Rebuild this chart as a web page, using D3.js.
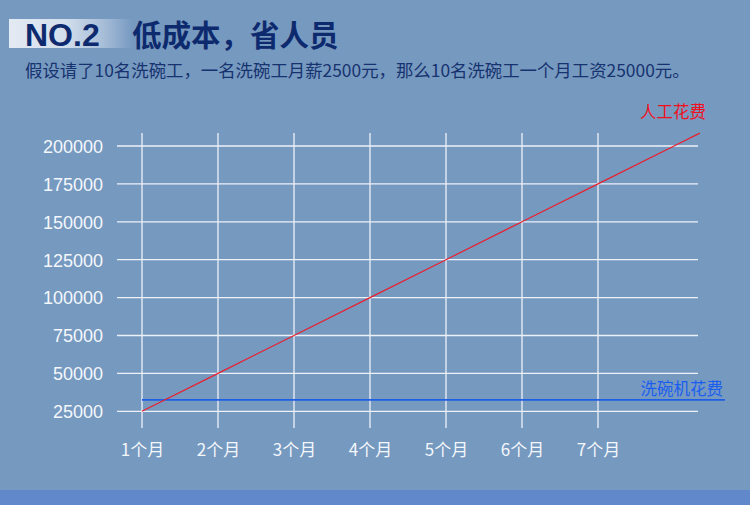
<!DOCTYPE html>
<html>
<head>
<meta charset="utf-8">
<script src="https://cdn.jsdelivr.net/npm/d3@7/dist/d3.min.js"></script>
<style>
html,body{margin:0;padding:0;background:#7699c0;}
svg{display:block;}
</style>
</head>
<body>
<svg id="chart" width="750" height="505"></svg>
<script>
// ---- data ----
const months = [1, 2, 3, 4, 5, 6, 7];
const monthLabels = ["1个月", "2个月", "3个月", "4个月", "5个月", "6个月", "7个月"];
const yTicks = [25000, 50000, 75000, 100000, 125000, 150000, 175000, 200000];
const laborMonths = [1, 2, 3, 4, 5, 6, 7, 8, 8.34];
const laborCost = [25000, 50000, 75000, 100000, 125000, 150000, 175000, 200000, 208500];
const machineMonths = [1, 8.67];
const machineCost = [32500, 32500];
const titleNo = "NO.2";
const titleText = "低成本，省人员";
const subtitle = "假设请了10名洗碗工，一名洗碗工月薪2500元，那么10名洗碗工一个月工资25000元。";
const laborLabel = "人工花费";
const machineLabel = "洗碗机花费";

const svg = d3.select("#chart");
const W = 750, H = 505;
const cjk = "'Noto Sans CJK SC','Noto Sans',sans-serif";

// background
svg.append("rect").attr("width", W).attr("height", H).attr("fill", "#7699c0");
svg.append("rect").attr("x", 0).attr("y", 490).attr("width", W).attr("height", 15).attr("fill", "#6288cc");

// title highlight gradient
const defs = svg.append("defs");
const grad = defs.append("linearGradient").attr("id", "hl").attr("x1", "0").attr("x2", "1").attr("y1", "0").attr("y2", "0");
grad.append("stop").attr("offset", "0").attr("stop-color", "#e4eaf3");
grad.append("stop").attr("offset", "0.45").attr("stop-color", "#d2deec");
grad.append("stop").attr("offset", "0.75").attr("stop-color", "#a9bfd9");
grad.append("stop").attr("offset", "1").attr("stop-color", "#7699c0");
svg.append("rect").attr("x", 9).attr("y", 19).attr("width", 124).attr("height", 29).attr("fill", "url(#hl)");

svg.append("text").attr("x", 25).attr("y", 45.5)
  .attr("font-family", "'Liberation Sans',Arial,sans-serif").attr("font-weight", "bold")
  .attr("font-size", 32).attr("fill", "#0e2a6e").text(titleNo);
svg.append("text").attr("x", 132).attr("y", 46)
  .attr("font-family", cjk).attr("font-weight", "bold")
  .attr("font-size", 29.5).attr("fill", "#0e2a6e").text(titleText);
svg.append("text").attr("x", 25).attr("y", 77)
  .attr("font-family", cjk).attr("font-size", 17.4).attr("fill", "#16336f").text(subtitle);

// scales
const x = d3.scaleLinear().domain([1, 2]).range([142, 218]);
const y = d3.scaleLinear().domain([25000, 50000]).range([411.3, 373.4]);

const gridColor = "#eef2f8";
// horizontal grid
svg.append("g").selectAll("line").data(yTicks).join("line")
  .attr("x1", 117).attr("x2", 698)
  .attr("y1", d => y(d)).attr("y2", d => y(d))
  .attr("stroke", gridColor).attr("stroke-width", 1.3);
// vertical grid
svg.append("g").selectAll("line").data(months).join("line")
  .attr("x1", d => x(d)).attr("x2", d => x(d))
  .attr("y1", 133).attr("y2", 428)
  .attr("stroke", gridColor).attr("stroke-width", 1.3);

// y axis labels
const yAxis = d3.axisLeft(y).tickValues(yTicks).tickSize(0).tickPadding(0).tickFormat(d3.format("d"));
const gy = svg.append("g").attr("transform", "translate(103,0)").call(yAxis);
gy.select(".domain").remove();
gy.selectAll("text").attr("font-family", "'Liberation Sans',Arial,sans-serif").attr("font-size", 18)
  .attr("fill", "#f4f7fb").attr("dy", "0.35em");

// x axis labels
const xAxis = d3.axisBottom(x).tickValues(months).tickSize(0).tickPadding(0)
  .tickFormat((d, i) => monthLabels[i]);
const gx = svg.append("g").attr("transform", "translate(0,450)").call(xAxis);
gx.select(".domain").remove();
gx.selectAll("text").attr("font-family", cjk).attr("font-size", 17)
  .attr("fill", "#f4f7fb").attr("dy", "0.35em");

// lines
const machineData = machineMonths.map((m, i) => [m, machineCost[i]]);
const laborData = laborMonths.map((m, i) => [m, laborCost[i]]);
const line = d3.line().x(d => x(d[0])).y(d => y(d[1]));
svg.append("path").attr("d", line(machineData)).attr("fill", "none")
  .attr("stroke", "#1f5ee6").attr("stroke-width", 1.8);
svg.append("path").attr("d", line(laborData)).attr("fill", "none")
  .attr("stroke", "#e8202e").attr("stroke-width", 1.2);

// labels
svg.append("text").attr("x", 706).attr("y", 118).attr("text-anchor", "end")
  .attr("font-family", cjk).attr("font-size", 16.5).attr("fill", "#f0101e").text(laborLabel);
svg.append("text").attr("x", 723).attr("y", 395).attr("text-anchor", "end")
  .attr("font-family", cjk).attr("font-size", 16.5).attr("fill", "#1a5ef0").text(machineLabel);
</script>
</body>
</html>
